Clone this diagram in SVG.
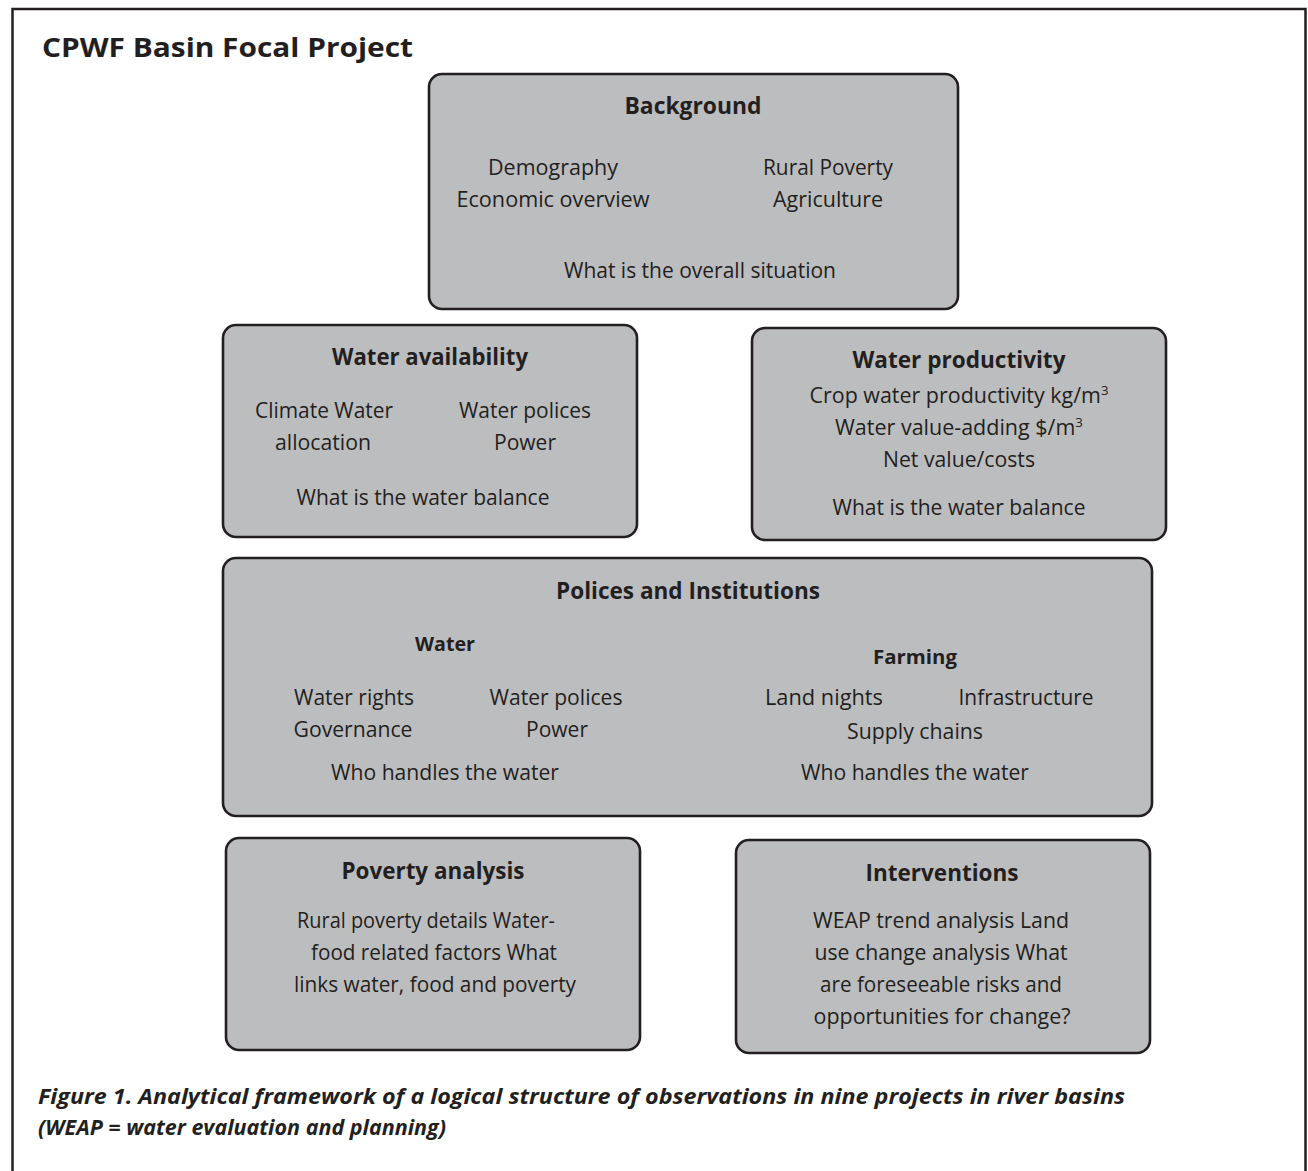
<svg xmlns="http://www.w3.org/2000/svg" width="1308" height="1171" viewBox="0 0 1308 1171">
  <style>
    text { font-family: "Open Sans", "Noto Sans", "Liberation Sans", sans-serif; fill: #231f20; text-anchor: middle; }
    .t { font-size: 21px; }
    .h { font-size: 23px; font-weight: bold; }
    .s { font-size: 20px; font-weight: bold; }
    .box { fill: #bcbdbf; stroke: #231f20; stroke-width: 2.6; }
    .cap { font-size: 22px; font-weight: bold; font-style: italic; text-anchor: start; }
    .sup { font-size: 13px; }
  </style>
  <rect width="1308" height="1171" fill="#ffffff"/>
  <!-- outer frame -->
  <rect x="12.5" y="9" width="1293" height="1200" fill="none" stroke="#231f20" stroke-width="2.5"/>
  <text x="42" y="57" style="font-size:27px;font-weight:bold;text-anchor:start" textLength="371" lengthAdjust="spacingAndGlyphs">CPWF Basin Focal Project</text>

  <g id="connectors"/>

  <g id="background">
    <rect class="box" x="429" y="74" width="529" height="235" rx="13"/>
    <text class="h" x="693" y="114" textLength="137" lengthAdjust="spacingAndGlyphs">Background</text>
    <text class="t" x="553" y="175" textLength="130" lengthAdjust="spacingAndGlyphs">Demography</text>
    <text class="t" x="553" y="207" textLength="193" lengthAdjust="spacingAndGlyphs">Economic overview</text>
    <text class="t" x="828" y="175" textLength="130" lengthAdjust="spacingAndGlyphs">Rural Poverty</text>
    <text class="t" x="828" y="207" textLength="110" lengthAdjust="spacingAndGlyphs">Agriculture</text>
    <text class="t" x="700" y="278" textLength="272" lengthAdjust="spacingAndGlyphs">What is the overall situation</text>
  </g>

  <g id="water-availability">
    <rect class="box" x="223" y="325" width="414" height="212" rx="13"/>
    <text class="h" x="430" y="365" textLength="196" lengthAdjust="spacingAndGlyphs">Water availability</text>
    <text class="t" x="324" y="418" textLength="138" lengthAdjust="spacingAndGlyphs">Climate Water</text>
    <text class="t" x="323" y="450" textLength="96" lengthAdjust="spacingAndGlyphs">allocation</text>
    <text class="t" x="525" y="418" textLength="132" lengthAdjust="spacingAndGlyphs">Water polices</text>
    <text class="t" x="525" y="450" textLength="62" lengthAdjust="spacingAndGlyphs">Power</text>
    <text class="t" x="423" y="505" textLength="253" lengthAdjust="spacingAndGlyphs">What is the water balance</text>
  </g>

  <g id="water-productivity">
    <rect class="box" x="752" y="328" width="414" height="212" rx="13"/>
    <text class="h" x="959" y="368" textLength="213" lengthAdjust="spacingAndGlyphs">Water productivity</text>
    <text class="t" x="959" y="403" textLength="299" lengthAdjust="spacingAndGlyphs">Crop water productivity kg/m<tspan class="sup" dy="-8">3</tspan></text>
    <text class="t" x="959" y="435" textLength="248" lengthAdjust="spacingAndGlyphs">Water value-adding $/m<tspan class="sup" dy="-8">3</tspan></text>
    <text class="t" x="959" y="467" textLength="152" lengthAdjust="spacingAndGlyphs">Net value/costs</text>
    <text class="t" x="959" y="515" textLength="253" lengthAdjust="spacingAndGlyphs">What is the water balance</text>
  </g>

  <g id="polices-institutions">
    <rect class="box" x="223" y="558" width="929" height="258" rx="13"/>
    <text class="h" x="688" y="599" textLength="264" lengthAdjust="spacingAndGlyphs">Polices and Institutions</text>
    <text class="s" x="445" y="651" textLength="60" lengthAdjust="spacingAndGlyphs">Water</text>
    <text class="s" x="915" y="664" textLength="84" lengthAdjust="spacingAndGlyphs">Farming</text>
    <text class="t" x="354" y="705" textLength="120" lengthAdjust="spacingAndGlyphs">Water rights</text>
    <text class="t" x="556" y="705" textLength="133" lengthAdjust="spacingAndGlyphs">Water polices</text>
    <text class="t" x="353" y="737" textLength="119" lengthAdjust="spacingAndGlyphs">Governance</text>
    <text class="t" x="557" y="737" textLength="62" lengthAdjust="spacingAndGlyphs">Power</text>
    <text class="t" x="824" y="705" textLength="118" lengthAdjust="spacingAndGlyphs">Land nights</text>
    <text class="t" x="1026" y="705" textLength="135" lengthAdjust="spacingAndGlyphs">Infrastructure</text>
    <text class="t" x="915" y="739" textLength="136" lengthAdjust="spacingAndGlyphs">Supply chains</text>
    <text class="t" x="445" y="780" textLength="228" lengthAdjust="spacingAndGlyphs">Who handles the water</text>
    <text class="t" x="915" y="780" textLength="228" lengthAdjust="spacingAndGlyphs">Who handles the water</text>
  </g>

  <g id="poverty-analysis">
    <rect class="box" x="226" y="838" width="414" height="212" rx="13"/>
    <text class="h" x="433" y="879" textLength="183" lengthAdjust="spacingAndGlyphs">Poverty analysis</text>
    <text class="t" x="426" y="928" textLength="258" lengthAdjust="spacingAndGlyphs">Rural poverty details Water-</text>
    <text class="t" x="434" y="960" textLength="246" lengthAdjust="spacingAndGlyphs">food related factors What</text>
    <text class="t" x="435" y="992" textLength="282" lengthAdjust="spacingAndGlyphs">links water, food and poverty</text>
  </g>

  <g id="interventions">
    <rect class="box" x="736" y="840" width="414" height="213" rx="13"/>
    <text class="h" x="942" y="881" textLength="153" lengthAdjust="spacingAndGlyphs">Interventions</text>
    <text class="t" x="941" y="928" textLength="256" lengthAdjust="spacingAndGlyphs">WEAP trend analysis Land</text>
    <text class="t" x="941" y="960" textLength="253" lengthAdjust="spacingAndGlyphs">use change analysis What</text>
    <text class="t" x="941" y="992" textLength="242" lengthAdjust="spacingAndGlyphs">are foreseeable risks and</text>
    <text class="t" x="942" y="1024" textLength="257" lengthAdjust="spacingAndGlyphs">opportunities for change?</text>
  </g>

  <text class="cap" x="38" y="1104" textLength="1087" lengthAdjust="spacingAndGlyphs">Figure 1. Analytical framework of a logical structure of observations in nine projects in river basins</text>
  <text class="cap" x="38" y="1135" textLength="408" lengthAdjust="spacingAndGlyphs">(WEAP = water evaluation and planning)</text>
</svg>
